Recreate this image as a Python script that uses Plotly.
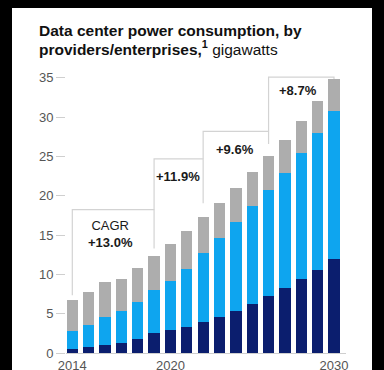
import plotly.graph_objects as go

years = list(range(2014, 2031))
dark_vals = [0.5, 0.72, 1.0, 1.3, 1.8, 2.5, 2.9, 3.35, 3.95, 4.6, 5.35, 6.25, 7.2, 8.3, 9.4, 10.6, 12.0]
light_tops = [2.85, 3.6, 4.6, 5.3, 6.5, 8.0, 9.1, 10.7, 12.7, 14.6, 16.7, 18.7, 20.7, 22.95, 25.4, 28.0, 30.75]
totals = [6.7, 7.76, 9.0, 9.45, 10.8, 12.4, 13.9, 15.5, 17.3, 19.1, 21.0, 23.0, 25.0, 27.1, 29.5, 32.0, 34.8]
light_vals = [round(t - d, 2) for t, d in zip(light_tops, dark_vals)]
gray_vals = [round(t - l, 2) for t, l in zip(totals, light_tops)]

cagr_labels = ["CAGR<br><b>+13.0%</b>", "<b>+11.9%</b>", "<b>+9.6%</b>", "<b>+8.7%</b>"]
cagr_start = [2014, 2019, 2022, 2026]
cagr_end = [2019, 2022, 2026, 2030]

ytick_vals = [0, 5, 10, 15, 20, 25, 30, 35]
xtick_vals = [2014, 2020, 2030]

title_line1 = "<b>Data center power consumption, by</b>"
title_line2 = "<b>providers/enterprises,<sup>1</sup></b> gigawatts"

NAVY = "#0b1e6e"
BLUE = "#0ea5ef"
GRAY = "#adadad"
FONT = "Liberation Sans, Arial"

fig = go.Figure()
for vals, col in [(dark_vals, NAVY), (light_vals, BLUE), (gray_vals, GRAY)]:
    fig.add_trace(go.Bar(x=years, y=vals, marker=dict(color=col, line=dict(width=0)),
                         width=0.69, hoverinfo="skip"))

W, H = 384, 370
L, R, T, B = 66, 38, 70, 17
pw, ph = W - L - R, H - T - B

def px_x(p):
    return (p - L) / pw

def px_y(p):
    return (H - B - p) / ph

shapes = []
# white card on black background
shapes.append(dict(type="rect", xref="paper", yref="paper",
                   x0=px_x(12), x1=px_x(372), y0=px_y(400), y1=px_y(8),
                   fillcolor="white", line=dict(width=0), layer="below"))

# CAGR brackets: (start low, top, end low)
bracket_levels = [(7.35, 18.25, 13.3), (18.25, 24.7, 19.05), (24.7, 28.2, 26.6), (28.2, 35.1, 34.5)]
for s, e, (lo0, top, lo1) in zip(cagr_start, cagr_end, bracket_levels):
    shapes.append(dict(type="path", xref="x", yref="y",
                       path=f"M {s},{lo0} L {s},{top} L {e},{top} L {e},{lo1}",
                       line=dict(color="#d3d3d3", width=1.2), layer="below"))

fig.update_layout(shapes=shapes)

ann_pos = [(2016.35, 15.2), (2020.45, 22.4), (2023.97, 25.9), (2027.78, 33.4)]
for lab, (ax, ay) in zip(cagr_labels, ann_pos):
    fig.add_annotation(x=ax, y=ay, xref="x", yref="y", text=lab, showarrow=False,
                       font=dict(family=FONT, size=13, color="#1a1a1a"),
                       align="center")

for txt, top in [(title_line1, 19.5), (title_line2, 36.0)]:
    fig.add_annotation(x=px_x(37), y=px_y(top), xref="paper", yref="paper",
                       xanchor="left", yanchor="top", text=txt, showarrow=False, align="left",
                       font=dict(family=FONT, size=15.5, color="#111"))

fig.update_layout(
    width=W, height=H,
    margin=dict(l=L, r=R, t=T, b=B, pad=0, autoexpand=False),
    paper_bgcolor="black", plot_bgcolor="white",
    barmode="stack", bargap=0, showlegend=False,
    xaxis=dict(range=[2013.615, 2030.734], tickvals=xtick_vals, ticktext=[str(v) for v in xtick_vals],
               showgrid=False, zeroline=False, showline=True, linecolor="#cfcfcf", linewidth=1,
               ticks="", automargin=False,
               tickfont=dict(family=FONT, size=13, color="#555")),
    yaxis=dict(range=[0, 36], tickvals=ytick_vals, showgrid=False, zeroline=False, showline=False,
               ticks="outside", ticklen=9, tickcolor="#cfcfcf", tickwidth=1, automargin=False,
               tickfont=dict(family=FONT, size=13, color="#555")),
)

fig.write_html("out.html", config={"displayModeBar": False},
               post_script="document.body.style.margin='0';document.body.style.background='black';")
